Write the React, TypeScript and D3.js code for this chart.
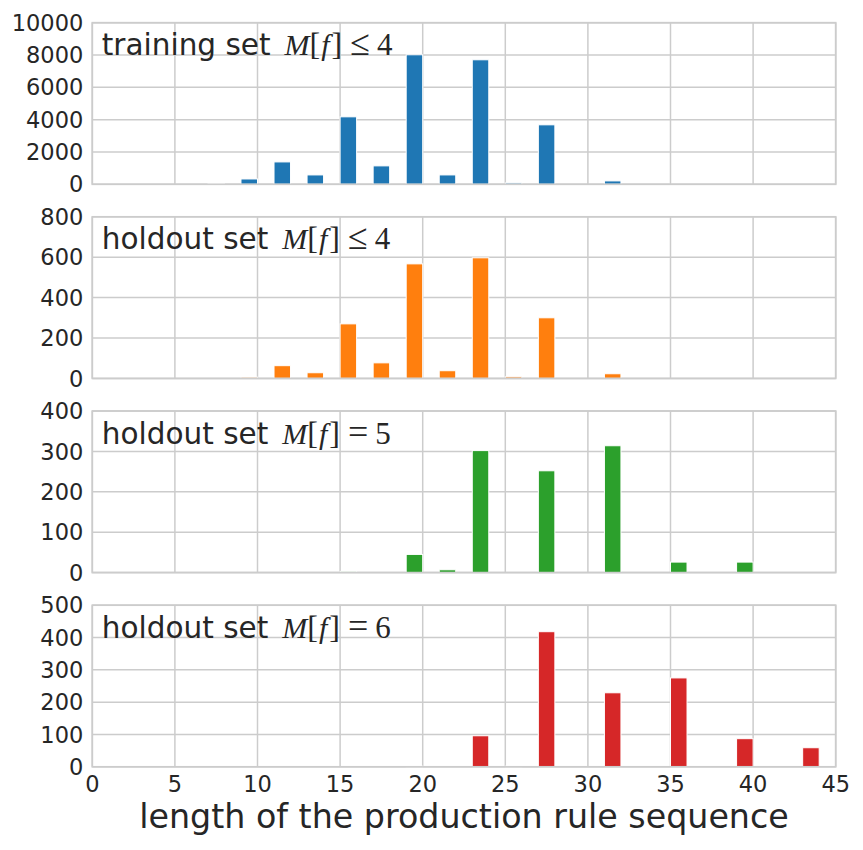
import React from "react";
import * as d3 from "d3";

const binStarts = [7, 9, 11, 13, 15, 17, 19, 21, 23, 25, 27, 29, 31, 33, 35, 37, 39, 41, 43];

const trainLe4 = [60, 330, 1385, 580, 4175, 1140, 8015, 580, 7705, 85, 3680, 0, 210, 0, 0, 0, 0, 0, 0];
const holdLe4 = [0, 6, 63, 28, 270, 77, 567, 38, 597, 8, 300, 0, 23, 0, 0, 0, 0, 0, 0];
const holdEq5 = [0, 0, 0, 0, 3, 0, 45, 7, 302, 0, 252, 0, 314, 0, 26, 0, 26, 0, 0];
const holdEq6 = [0, 0, 0, 0, 0, 0, 2, 0, 96, 2, 418, 0, 229, 0, 275, 0, 87, 0, 59];

const yMaxes = [10000, 800, 400, 500];
const yStepTicks = [2000, 200, 100, 100];
const xTicks = [0, 5, 10, 15, 20, 25, 30, 35, 40, 45];
const colors = ["#1f77b4", "#ff7f0e", "#2ca02c", "#d62728"];
const setNames = ["training set", "holdout set", "holdout set", "holdout set"];
const relations = ["\u2264", "\u2264", "=", "="];
const relValues = ["4", "4", "5", "6"];
const xLabel = "length of the production rule sequence";

const W = 863;
const H = 850;
const left = 92.3;
const right = 835.7;
const panelTops = [22.7, 216.8, 411, 605.2];
const panelH = 161.6;
const text = "#262626";
const grid = "#cccccc";
const sans = "'DejaVu Sans', sans-serif";
const serif = "'Liberation Serif', 'DejaVu Serif', serif";

const series = [trainLe4, holdLe4, holdEq5, holdEq6];

export default function App() {
  const x = d3.scaleLinear().domain([0, 45]).range([left, right]);
  return (
    <svg
      width={W}
      height={H}
      style={{ position: "absolute", left: 0, top: 0, background: "#fff" }}
    >
      {series.map((vals, i) => {
        const top = panelTops[i];
        const y = d3.scaleLinear().domain([0, yMaxes[i]]).range([top + panelH, top]);
        const yt = d3.range(0, yMaxes[i] + 1, yStepTicks[i]);
        return (
          <g key={i}>
            {xTicks.map((t) => (
              <line key={"gx" + t} x1={x(t)} x2={x(t)} y1={top} y2={top + panelH} stroke={grid} strokeWidth={1.5} />
            ))}
            {yt.map((t) => (
              <line key={"gy" + t} x1={left} x2={right} y1={y(t)} y2={y(t)} stroke={grid} strokeWidth={1.5} />
            ))}
            {vals.map((v, j) =>
              v > 0 ? (
                <rect
                  key={"b" + j}
                  x={x(binStarts[j])}
                  y={y(v)}
                  width={x(binStarts[j] + 1) - x(binStarts[j])}
                  height={y(0) - y(v)}
                  fill={colors[i]}
                  stroke="#ffffff"
                  strokeWidth={1}
                />
              ) : null
            )}
            <rect x={left} y={top} width={right - left} height={panelH} fill="none" stroke={grid} strokeWidth={1.7} />
            {yt.map((t) => (
              <text
                key={"yl" + t}
                x={left - 9}
                y={y(t)}
                dy="0.36em"
                textAnchor="end"
                fontFamily={sans}
                fontSize={22.5}
                fill={text}
              >
                {t}
              </text>
            ))}
            <text x={left + 9.5} y={top + 32.5} fontFamily={sans} fontSize={29.5} fill={text}>
              <tspan>{setNames[i]}</tspan>
              <tspan dx={14} fontFamily={serif} fontStyle="italic" fontSize={30}>M</tspan>
              <tspan fontFamily={serif} fontSize={32}>[</tspan>
              <tspan dx={1} fontFamily={serif} fontStyle="italic" fontSize={30}>f</tspan>
              <tspan dx={2} fontFamily={serif} fontSize={32}>]</tspan>
              <tspan dx={8} fontFamily={serif} fontSize={36}>{relations[i]}</tspan>
              <tspan dx={7} fontFamily={serif} fontSize={31}>{relValues[i]}</tspan>
            </text>
          </g>
        );
      })}
      {xTicks.map((t) => (
        <text
          key={"xl" + t}
          x={x(t)}
          y={792}
          textAnchor="middle"
          fontFamily={sans}
          fontSize={22.5}
          fill={text}
        >
          {t}
        </text>
      ))}
      <text x={(left + right) / 2} y={828} textAnchor="middle" fontFamily={sans} fontSize={33.3} fill={text}>
        {xLabel}
      </text>
    </svg>
  );
}
